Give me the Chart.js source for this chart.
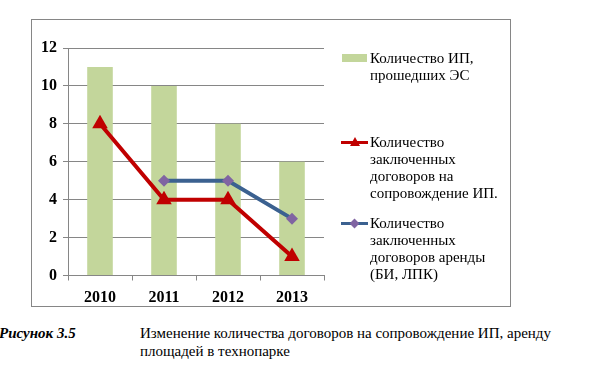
<!DOCTYPE html>
<html>
<head>
<meta charset="utf-8">
<script src="https://cdn.jsdelivr.net/npm/chart.js@4"></script>
<style>
  body { margin: 0; width: 595px; height: 385px; background: #fff; position: relative; overflow: hidden; }
  #box { position: absolute; left: 31px; top: 19px; width: 478px; height: 286px; border: 1px solid #868686; }
  #box canvas { position: absolute; left: 0; top: 0; }
  .leg, .leg div, .cap { font-family: 'Liberation Serif', 'Times New Roman', serif; }
  .leg { position: absolute; left: 338px; font-size: 15px; line-height: 17px; color: #000; }
  .leg .txt { position: absolute; left: 32px; top: 0; width: 150px; }
  .sw { position: absolute; left: 0; width: 28px; height: 17px; }
  .cap { position: absolute; font-size: 15px; line-height: 18px; color: #000; }
</style>
</head>
<body>
<div id="box"><canvas id="chart" width="478" height="286"></canvas></div>
<div id="legend"></div>
<div class="cap" style="left:-1px; top:324px; font-weight:bold; font-style:italic;">Рисунок 3.5</div>
<div class="cap" style="left:140px; top:324px; width:460px;">Изменение количества договоров на сопровождение ИП, аренду<br>площадей в технопарке</div>
<script>
document.addEventListener('DOMContentLoaded', function() {
    // Data
    const years = ['2010', '2011', '2012', '2013'];
    const passedES = [11, 10, 8, 6];
    const supportContracts = [8, 4, 4, 1];
    const rentContracts = [null, 5, 5, 3];
    const yTicks = [0, 2, 4, 6, 8, 10, 12];

    const seriesLabels = [
        ['Количество ИП,', 'прошедших ЭС'],
        ['Количество', 'заключенных', 'договоров на', 'сопровождение ИП.'],
        ['Количество', 'заключенных', 'договоров аренды', '(БИ, ЛПК)']
    ];

    Chart.defaults.font.family = "'Liberation Serif', 'Times New Roman', serif";
    const axisFont = { family: "'Liberation Serif', 'Times New Roman', serif", size: 16, weight: 'bold' };

    const ctx = document.getElementById('chart').getContext('2d');
    new Chart(ctx, {
        type: 'bar',
        data: {
            labels: years,
            datasets: [{
                type: 'bar',
                label: seriesLabels[0].join(' '),
                data: passedES,
                backgroundColor: '#c3d69b',
                categoryPercentage: 0.8,
                barPercentage: 0.5,
                order: 3
            }, {
                type: 'line',
                label: seriesLabels[1].join(' '),
                data: supportContracts,
                borderColor: '#c00000',
                backgroundColor: '#c00000',
                borderWidth: 4,
                pointStyle: 'triangle',
                pointRadius: 9,
                pointBorderWidth: 0,
                tension: 0,
                order: 2
            }, {
                type: 'line',
                label: seriesLabels[2].join(' '),
                data: rentContracts,
                borderColor: '#3b6190',
                backgroundColor: '#8064a2',
                borderWidth: 4,
                pointStyle: 'rectRot',
                pointRadius: 6,
                pointBorderWidth: 0,
                tension: 0,
                order: 1
            }]
        },
        options: {
            responsive: false,
            animation: false,
            layout: { padding: { left: 0, top: 28, right: 186, bottom: 0 } },
            plugins: {
                legend: { display: false },
                tooltip: { enabled: false }
            },
            scales: {
                x: {
                    offset: true,
                    grid: {
                        offset: true,
                        drawOnChartArea: false,
                        drawTicks: true,
                        tickLength: 5,
                        color: '#868686'
                    },
                    border: { color: '#868686', width: 1 },
                    ticks: { color: '#000', font: axisFont, padding: 8 },
                    afterFit: function(scale) { scale.height = 30.5; }
                },
                y: {
                    min: 0,
                    max: 12,
                    afterBuildTicks: function(scale) {
                        scale.ticks = yTicks.map(v => ({ value: v }));
                    },
                    grid: {
                        color: '#868686',
                        drawTicks: true,
                        tickLength: 5
                    },
                    border: { color: '#868686', width: 1 },
                    ticks: { color: '#000', font: axisFont, padding: 6 },
                    afterFit: function(scale) { scale.width = 36; }
                }
            }
        }
    });

    // Legend (HTML so that wrapped labels stay real text)
    const legendTops = [50, 134, 215];
    const legend = document.getElementById('legend');
    seriesLabels.forEach(function(lines, i) {
        const item = document.createElement('div');
        item.className = 'leg';
        item.style.top = legendTops[i] + 'px';
        let sw = '';
        if (i === 0) {
            sw = '<div class="sw"><div style="position:absolute;left:4px;top:4px;width:25px;height:8px;background:#c3d69b"></div></div>';
        } else if (i === 1) {
            sw = '<div class="sw"><div style="position:absolute;left:3px;top:7px;width:27px;height:3px;background:#c00000"></div>' +
                 '<div style="position:absolute;left:12px;top:3px;width:0;height:0;border-left:5px solid transparent;border-right:5px solid transparent;border-bottom:9px solid #c00000"></div></div>';
        } else {
            sw = '<div class="sw"><div style="position:absolute;left:3px;top:7px;width:27px;height:3px;background:#3b6190"></div>' +
                 '<div style="position:absolute;left:13px;top:5px;width:7px;height:7px;background:#8064a2;transform:rotate(45deg)"></div></div>';
        }
        item.innerHTML = sw + '<div class="txt">' + lines.join('<br>') + '</div>';
        legend.appendChild(item);
    });
});
</script>
</body>
</html>
